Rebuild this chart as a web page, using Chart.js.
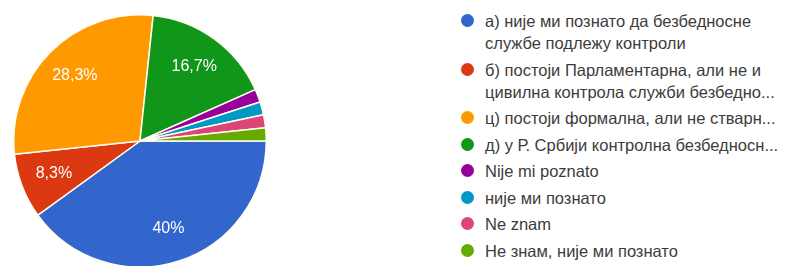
<!DOCTYPE html>
<html>
<head>
<meta charset="utf-8">
<script src="https://cdn.jsdelivr.net/npm/chart.js@4/dist/chart.umd.min.js"></script>
<style>
  html, body { margin: 0; padding: 0; background: #fff; }
  body { width: 792px; height: 266px; position: relative; overflow: hidden; font-family: "Liberation Sans", Arial, sans-serif; }
  #pieBox { position: absolute; left: 13px; top: 14px; width: 254px; height: 254px; }
  #legend { position: absolute; left: 461px; top: 10px; margin: 0; padding: 0; list-style: none; }
  #legend li { position: relative; padding-left: 24px; font-size: 16.5px; line-height: 22px; color: #3c3c3c; white-space: pre; margin-bottom: 4.5px; }
  #legend li span.dot { position: absolute; left: 0; top: 4px; width: 13px; height: 13px; border-radius: 50%; }
</style>
</head>
<body>
<div id="pieBox"><canvas id="pie"></canvas></div>
<ul id="legend"></ul>
<script>
// answers (visible legend text), respondents per answer, slice colours
const labels = [
  'а) није ми познато да безбедносне\nслужбе подлежу контроли',
  'б) постоји Парламентарна, али не и\nцивилна контрола служби безбедно...',
  'ц) постоји формална, али не стварн...',
  'д) у Р. Србији контролна безбедносн...',
  'Nije mi poznato',
  'није ми познато',
  'Ne znam',
  'Не знам, није ми познато'
];
const counts = [24, 5, 17, 10, 1, 1, 1, 1];
const colors = ['#3366cc', '#dc3912', '#ff9900', '#109618', '#990099', '#0099c6', '#dd4477', '#66aa00'];

const total = counts.reduce((a, b) => a + b, 0);

function pctText(v) {
  const p = Math.round(v / total * 1000) / 10;
  return String(p).replace('.', ',') + '%';
}

// percentage labels inside the bigger slices
const sliceLabels = {
  id: 'sliceLabels',
  afterDatasetsDraw(chart) {
    const ctx = chart.ctx;
    const meta = chart.getDatasetMeta(0);
    ctx.save();
    ctx.fillStyle = '#ffffff';
    ctx.font = '16px "Liberation Sans", Arial, sans-serif';
    ctx.textAlign = 'center';
    ctx.textBaseline = 'middle';
    meta.data.forEach((arc, i) => {
      if (counts[i] / total < 0.05) return;
      const mid = (arc.startAngle + arc.endAngle) / 2;
      const r = arc.outerRadius * 0.73;
      ctx.fillText(pctText(counts[i]), arc.x + Math.cos(mid) * r, arc.y + Math.sin(mid) * r);
    });
    ctx.restore();
  }
};

new Chart(document.getElementById('pie'), {
  type: 'pie',
  data: {
    labels,
    datasets: [{
      data: counts,
      backgroundColor: colors,
      borderColor: '#fffdf0',
      borderWidth: 1.5
    }]
  },
  options: {
    responsive: true,
    maintainAspectRatio: false,
    animation: false,
    rotation: 90,
    layout: { padding: 0 },
    plugins: {
      legend: { display: false },
      tooltip: { enabled: false }
    }
  },
  plugins: [sliceLabels]
});

// legend on the right
const ul = document.getElementById('legend');
labels.forEach((txt, i) => {
  const li = document.createElement('li');
  const dot = document.createElement('span');
  dot.className = 'dot';
  dot.style.background = colors[i];
  li.appendChild(dot);
  li.appendChild(document.createTextNode(txt));
  ul.appendChild(li);
});
</script>
</body>
</html>
